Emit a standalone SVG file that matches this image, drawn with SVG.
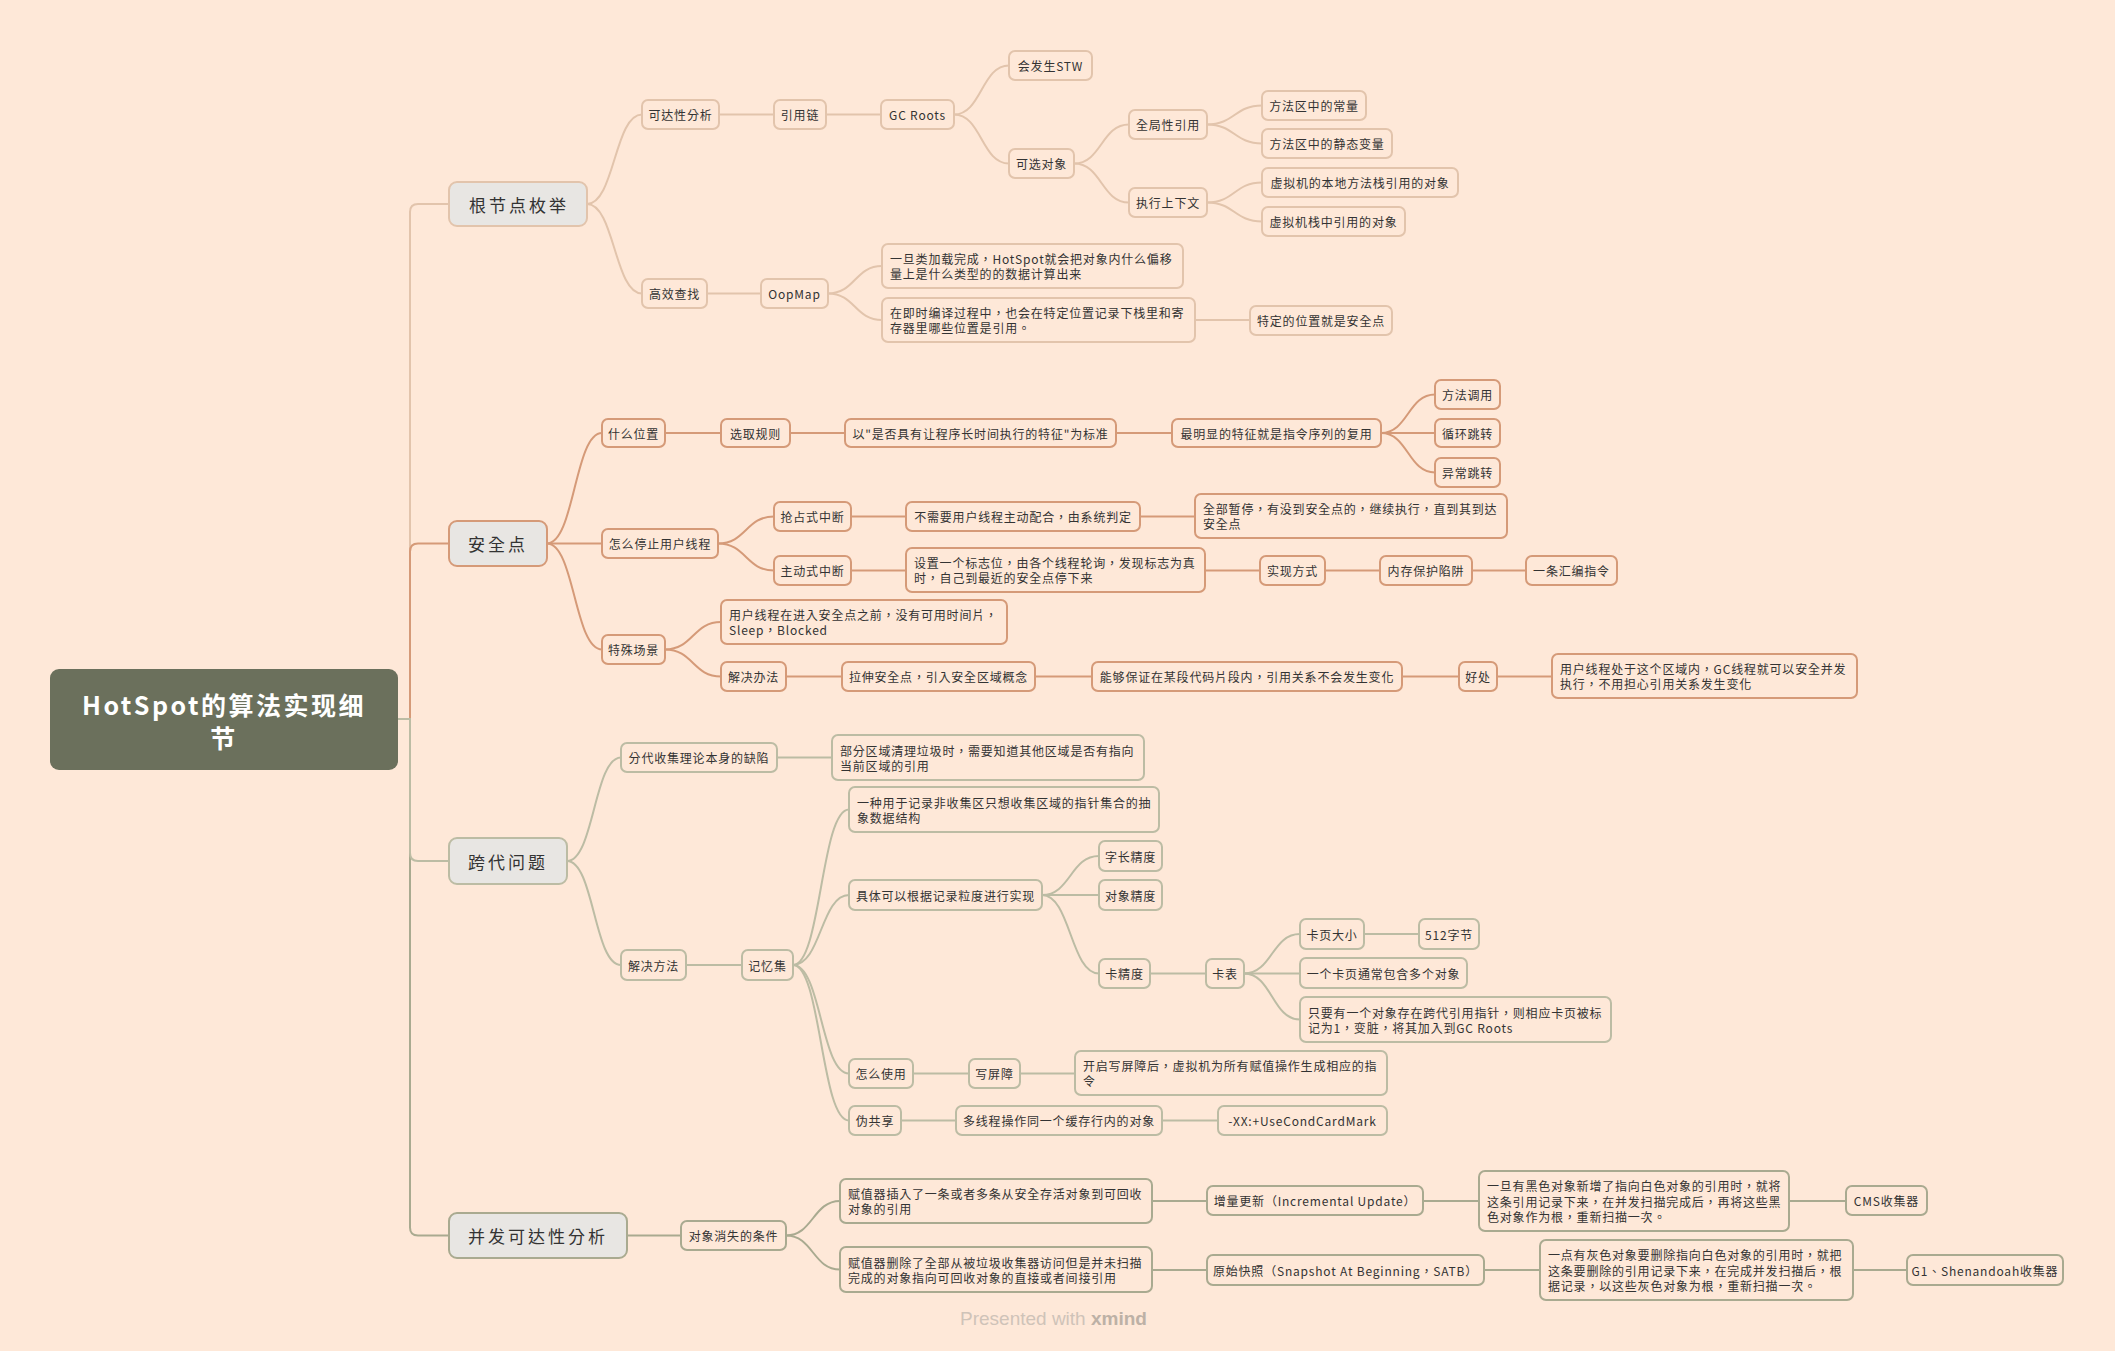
<svg xmlns="http://www.w3.org/2000/svg" width="2115" height="1351" viewBox="0 0 2115 1351">
<style>
text{font-family:"Noto Sans CJK TC","Noto Sans CJK SC",sans-serif;fill:#333333}
.t{font-size:12px;letter-spacing:0.8px}
.c{text-anchor:middle;dominant-baseline:central}
.ml{dominant-baseline:central}
.l1t{font-size:17px;letter-spacing:3px;text-anchor:middle;dominant-baseline:central}
.rt{font-size:25px;font-weight:bold;letter-spacing:2.5px;text-anchor:middle;dominant-baseline:central;fill:#ffffff}
rect{stroke-width:2}
.n1{fill:#fee8d8;stroke:#e2c4ac}
.n2{fill:#fee8d8;stroke:#d59a78}
.n3{fill:#fee8d8;stroke:#bcbca4}
.n4{fill:#fee8d8;stroke:#a9aa90}
.L1{fill:#e8e6e3}
path{fill:none;stroke-width:2}
.c1{stroke:#e2c4ac}
.c2{stroke:#d59a78}
.c3{stroke:#bcbca4}
.c4{stroke:#a9aa90}
</style>
<rect x="0" y="0" width="2115" height="1351" fill="#fee8d8" style="stroke:none"/>

<g id="connectors">
<path class="c1" d="M398 719H410V212Q410 204 418 204H449"/>
<path class="c2" d="M398 719H410V551.5Q410 543.5 418 543.5H449"/>
<path class="c4" d="M398 719H410V1227.5Q410 1235.5 418 1235.5H449"/>
<path class="c3" d="M398 719H410V853Q410 861 418 861H449"/>

<path class="c1" d="M587 204C614.5 204 614.5 114.5 642 114.5"/>
<path class="c1" d="M587 204C614.5 204 614.5 293.5 642 293.5"/>
<path class="c1" d="M719 114.5H774"/>
<path class="c1" d="M826 114.5H881"/>
<path class="c1" d="M954 114.5C981.5 114.5 981.5 65.5 1009 65.5"/>
<path class="c1" d="M954 114.5C981.5 114.5 981.5 163.5 1009 163.5"/>
<path class="c1" d="M1074 163.5C1101.5 163.5 1101.5 124.5 1129 124.5"/>
<path class="c1" d="M1074 163.5C1101.5 163.5 1101.5 202.5 1129 202.5"/>
<path class="c1" d="M1207 124.5C1234.5 124.5 1234.5 105.5 1262 105.5"/>
<path class="c1" d="M1207 124.5C1234.5 124.5 1234.5 143.5 1262 143.5"/>
<path class="c1" d="M1207 202.5C1234.5 202.5 1234.5 182.5 1262 182.5"/>
<path class="c1" d="M1207 202.5C1234.5 202.5 1234.5 221.5 1262 221.5"/>
<path class="c1" d="M707 293.5H761"/>
<path class="c1" d="M828 293.5C855 293.5 855 266 882 266"/>
<path class="c1" d="M828 293.5C855 293.5 855 320 882 320"/>
<path class="c1" d="M1195 320H1250"/>

<path class="c2" d="M547 543.5C574.5 543.5 574.5 433 602 433"/>
<path class="c2" d="M547 543.5H602"/>
<path class="c2" d="M547 543.5C574.5 543.5 574.5 649.5 602 649.5"/>
<path class="c2" d="M665 433H721"/>
<path class="c2" d="M790 433H845"/>
<path class="c2" d="M1116 433H1172"/>
<path class="c2" d="M1381 433C1408 433 1408 394.5 1435 394.5"/>
<path class="c2" d="M1381 433H1435"/>
<path class="c2" d="M1381 433C1408 433 1408 472.5 1435 472.5"/>
<path class="c2" d="M718 543.5C746 543.5 746 516.5 774 516.5"/>
<path class="c2" d="M718 543.5C746 543.5 746 570.5 774 570.5"/>
<path class="c2" d="M851 516.5H906"/>
<path class="c2" d="M1140 516.5H1195"/>
<path class="c2" d="M851 570.5H906"/>
<path class="c2" d="M1205 570.5H1260"/>
<path class="c2" d="M1325 570.5H1380"/>
<path class="c2" d="M1472 570.5H1526"/>
<path class="c2" d="M665 649.5C693 649.5 693 622 721 622"/>
<path class="c2" d="M665 649.5C693 649.5 693 676.5 721 676.5"/>
<path class="c2" d="M786 676.5H842"/>
<path class="c2" d="M1035 676.5H1092"/>
<path class="c2" d="M1402 676.5H1459"/>
<path class="c2" d="M1497 676.5H1552"/>

<path class="c3" d="M567 861C594 861 594 757.5 621 757.5"/>
<path class="c3" d="M567 861C594 861 594 965 621 965"/>
<path class="c3" d="M777 757.5H832"/>
<path class="c3" d="M686 965H742"/>
<path class="c3" d="M793 965C821 965 821 809.5 849 809.5"/>
<path class="c3" d="M793 965C821 965 821 895 849 895"/>
<path class="c3" d="M793 965C821 965 821 1073.5 849 1073.5"/>
<path class="c3" d="M793 965C821 965 821 1120.5 849 1120.5"/>
<path class="c3" d="M1042 895C1070.5 895 1070.5 856 1099 856"/>
<path class="c3" d="M1042 895H1099"/>
<path class="c3" d="M1042 895C1070.5 895 1070.5 973.5 1099 973.5"/>
<path class="c3" d="M1150 973.5H1206"/>
<path class="c3" d="M1244 973.5C1272 973.5 1272 934 1300 934"/>
<path class="c3" d="M1244 973.5H1300"/>
<path class="c3" d="M1244 973.5C1272 973.5 1272 1019.5 1300 1019.5"/>
<path class="c3" d="M1364 934H1419"/>
<path class="c3" d="M913 1073.5H969"/>
<path class="c3" d="M1020 1073.5H1075"/>
<path class="c3" d="M901 1120.5H956"/>
<path class="c3" d="M1162 1120.5H1218"/>

<path class="c4" d="M627 1235.5H681"/>
<path class="c4" d="M786 1235.5C813 1235.5 813 1201 840 1201"/>
<path class="c4" d="M786 1235.5C813 1235.5 813 1269.5 840 1269.5"/>
<path class="c4" d="M1152 1201H1207"/>
<path class="c4" d="M1423 1201H1479"/>
<path class="c4" d="M1789 1201H1846"/>
<path class="c4" d="M1152 1270H1207"/>
<path class="c4" d="M1484 1270H1540"/>
<path class="c4" d="M1853 1270H1907"/>
</g>

<g id="root">
<rect x="50" y="669" width="348" height="101" rx="9" fill="#6b705c" style="stroke:none"/>
<text class="rt" x="224" y="704">HotSpot的算法实现细</text>
<text class="rt" x="224" y="737">节</text>
</g>

<!-- Branch 1 -->
<g id="n-gzjd"><rect class="L1" x="449" y="182" width="138" height="44" rx="8" style="stroke:#e2c4ac"/><text class="l1t" x="519" y="204">根节点枚举</text></g>
<g id="n-kdx"><rect class="n1" x="642" y="100" width="77" height="29" rx="6"/><text class="t c" x="680.5" y="114.5">可达性分析</text></g>
<g id="n-yyl"><rect class="n1" x="774" y="100" width="52" height="29" rx="6"/><text class="t c" x="800" y="114.5">引用链</text></g>
<g id="n-gcr"><rect class="n1" x="881" y="100" width="73" height="29" rx="6"/><text class="t c" x="917.5" y="114.5">GC Roots</text></g>
<g id="n-stw"><rect class="n1" x="1009" y="51" width="83" height="29" rx="6"/><text class="t c" x="1050.5" y="65.5">会发生STW</text></g>
<g id="n-kxdx"><rect class="n1" x="1009" y="149" width="65" height="29" rx="6"/><text class="t c" x="1041.5" y="163.5">可选对象</text></g>
<g id="n-qjx"><rect class="n1" x="1129" y="110" width="78" height="29" rx="6"/><text class="t c" x="1168" y="124.5">全局性引用</text></g>
<g id="n-zxsx"><rect class="n1" x="1129" y="188" width="78" height="29" rx="6"/><text class="t c" x="1168" y="202.5">执行上下文</text></g>
<g id="n-cl"><rect class="n1" x="1262" y="91" width="104" height="29" rx="6"/><text class="t c" x="1314" y="105.5">方法区中的常量</text></g>
<g id="n-jtbl"><rect class="n1" x="1262" y="129" width="130" height="29" rx="6"/><text class="t c" x="1327" y="143.5">方法区中的静态变量</text></g>
<g id="n-bdff"><rect class="n1" x="1262" y="168" width="196" height="29" rx="6"/><text class="t c" x="1360" y="182.5">虚拟机的本地方法栈引用的对象</text></g>
<g id="n-xnjz"><rect class="n1" x="1262" y="207" width="143" height="29" rx="6"/><text class="t c" x="1333.5" y="221.5">虚拟机栈中引用的对象</text></g>
<g id="n-gxcz"><rect class="n1" x="642" y="279" width="65" height="29" rx="6"/><text class="t c" x="674.5" y="293.5">高效查找</text></g>
<g id="n-oop"><rect class="n1" x="761" y="279" width="67" height="29" rx="6"/><text class="t c" x="794.5" y="293.5">OopMap</text></g>
<g id="n-ydlj"><rect class="n1" x="882" y="244" width="301" height="44" rx="6"/><text class="t ml" x="890" y="258.5">一旦类加载完成，HotSpot就会把对象内什么偏移</text><text class="t ml" x="890" y="273.5">量上是什么类型的的数据计算出来</text></g>
<g id="n-zjsbj"><rect class="n1" x="882" y="298" width="313" height="44" rx="6"/><text class="t ml" x="890" y="312.5">在即时编译过程中，也会在特定位置记录下栈里和寄</text><text class="t ml" x="890" y="327.5">存器里哪些位置是引用。</text></g>
<g id="n-tdwz"><rect class="n1" x="1250" y="306" width="142" height="29" rx="6"/><text class="t c" x="1321" y="320.5">特定的位置就是安全点</text></g>

<!-- Branch 2 -->
<g id="n-aqd"><rect class="L1" x="449" y="521" width="98" height="45" rx="8" style="stroke:#d59a78"/><text class="l1t" x="498" y="543.5">安全点</text></g>
<g id="n-smwz"><rect class="n2" x="602" y="419" width="63" height="28" rx="6"/><text class="t c" x="633.5" y="433">什么位置</text></g>
<g id="n-xqgz"><rect class="n2" x="721" y="419" width="69" height="28" rx="6"/><text class="t c" x="755.5" y="433">选取规则</text></g>
<g id="n-yssf"><rect class="n2" x="845" y="419" width="271" height="28" rx="6"/><text class="t c" x="980.5" y="433">以"是否具有让程序长时间执行的特征"为标准</text></g>
<g id="n-zmxd"><rect class="n2" x="1172" y="419" width="209" height="28" rx="6"/><text class="t c" x="1276.5" y="433">最明显的特征就是指令序列的复用</text></g>
<g id="n-ffdy"><rect class="n2" x="1435" y="380" width="65" height="29" rx="6"/><text class="t c" x="1467.5" y="394.5">方法调用</text></g>
<g id="n-xhtz"><rect class="n2" x="1435" y="419" width="65" height="28" rx="6"/><text class="t c" x="1467.5" y="433">循环跳转</text></g>
<g id="n-yctz"><rect class="n2" x="1435" y="458" width="65" height="29" rx="6"/><text class="t c" x="1467.5" y="472.5">异常跳转</text></g>
<g id="n-zmtz"><rect class="n2" x="602" y="529" width="116" height="29" rx="6"/><text class="t c" x="660" y="543.5">怎么停止用户线程</text></g>
<g id="n-qzs"><rect class="n2" x="774" y="502" width="77" height="29" rx="6"/><text class="t c" x="812.5" y="516.5">抢占式中断</text></g>
<g id="n-bxy"><rect class="n2" x="906" y="502" width="234" height="29" rx="6"/><text class="t c" x="1023" y="516.5">不需要用户线程主动配合，由系统判定</text></g>
<g id="n-qbzt"><rect class="n2" x="1195" y="494" width="312" height="44" rx="6"/><text class="t ml" x="1203" y="508.5">全部暂停，有没到安全点的，继续执行，直到其到达</text><text class="t ml" x="1203" y="523.5">安全点</text></g>
<g id="n-zds"><rect class="n2" x="774" y="556" width="77" height="29" rx="6"/><text class="t c" x="812.5" y="570.5">主动式中断</text></g>
<g id="n-szyg"><rect class="n2" x="906" y="548" width="299" height="44" rx="6"/><text class="t ml" x="914" y="562.5">设置一个标志位，由各个线程轮询，发现标志为真</text><text class="t ml" x="914" y="577.5">时，自己到最近的安全点停下来</text></g>
<g id="n-sxfs"><rect class="n2" x="1260" y="556" width="65" height="29" rx="6"/><text class="t c" x="1292.5" y="570.5">实现方式</text></g>
<g id="n-ncbh"><rect class="n2" x="1380" y="556" width="92" height="29" rx="6"/><text class="t c" x="1426" y="570.5">内存保护陷阱</text></g>
<g id="n-ythb"><rect class="n2" x="1526" y="556" width="91" height="29" rx="6"/><text class="t c" x="1571.5" y="570.5">一条汇编指令</text></g>
<g id="n-tscj"><rect class="n2" x="602" y="635" width="63" height="29" rx="6"/><text class="t c" x="633.5" y="649.5">特殊场景</text></g>
<g id="n-yhxc"><rect class="n2" x="721" y="600" width="286" height="44" rx="6"/><text class="t ml" x="729" y="614.5">用户线程在进入安全点之前，没有可用时间片，</text><text class="t ml" x="729" y="629.5">Sleep，Blocked</text></g>
<g id="n-jjbf"><rect class="n2" x="721" y="662" width="65" height="29" rx="6"/><text class="t c" x="753.5" y="676.5">解决办法</text></g>
<g id="n-lsaq"><rect class="n2" x="842" y="662" width="193" height="29" rx="6"/><text class="t c" x="938.5" y="676.5">拉伸安全点，引入安全区域概念</text></g>
<g id="n-ngbz"><rect class="n2" x="1092" y="662" width="310" height="29" rx="6"/><text class="t c" x="1247" y="676.5">能够保证在某段代码片段内，引用关系不会发生变化</text></g>
<g id="n-hc"><rect class="n2" x="1459" y="662" width="38" height="29" rx="6"/><text class="t c" x="1478" y="676.5">好处</text></g>
<g id="n-yhcy"><rect class="n2" x="1552" y="654" width="305" height="44" rx="6"/><text class="t ml" x="1560" y="668.5">用户线程处于这个区域内，GC线程就可以安全并发</text><text class="t ml" x="1560" y="683.5">执行，不用担心引用关系发生变化</text></g>

<!-- Branch 3 -->
<g id="n-kdwt"><rect class="L1" x="449" y="838" width="118" height="46" rx="8" style="stroke:#bcbca4"/><text class="l1t" x="508" y="861">跨代问题</text></g>
<g id="n-fdsj"><rect class="n3" x="621" y="743" width="156" height="29" rx="6"/><text class="t c" x="699" y="757.5">分代收集理论本身的缺陷</text></g>
<g id="n-bfqy"><rect class="n3" x="832" y="735" width="312" height="45" rx="6"/><text class="t ml" x="840" y="750">部分区域清理垃圾时，需要知道其他区域是否有指向</text><text class="t ml" x="840" y="765">当前区域的引用</text></g>
<g id="n-jjff"><rect class="n3" x="621" y="950" width="65" height="30" rx="6"/><text class="t c" x="653.5" y="965">解决方法</text></g>
<g id="n-jyj"><rect class="n3" x="742" y="950" width="51" height="30" rx="6"/><text class="t c" x="767.5" y="965">记忆集</text></g>
<g id="n-yzyy"><rect class="n3" x="849" y="787" width="310" height="45" rx="6"/><text class="t ml" x="857" y="802">一种用于记录非收集区只想收集区域的指针集合的抽</text><text class="t ml" x="857" y="817">象数据结构</text></g>
<g id="n-jtky"><rect class="n3" x="849" y="880" width="193" height="30" rx="6"/><text class="t c" x="945.5" y="895">具体可以根据记录粒度进行实现</text></g>
<g id="n-zcjd"><rect class="n3" x="1099" y="841" width="63" height="30" rx="6"/><text class="t c" x="1130.5" y="856">字长精度</text></g>
<g id="n-dxjd"><rect class="n3" x="1099" y="880" width="63" height="30" rx="6"/><text class="t c" x="1130.5" y="895">对象精度</text></g>
<g id="n-kjd"><rect class="n3" x="1099" y="959" width="51" height="29" rx="6"/><text class="t c" x="1124.5" y="973.5">卡精度</text></g>
<g id="n-kb"><rect class="n3" x="1206" y="959" width="38" height="29" rx="6"/><text class="t c" x="1225" y="973.5">卡表</text></g>
<g id="n-kydx"><rect class="n3" x="1300" y="919" width="64" height="30" rx="6"/><text class="t c" x="1332" y="934">卡页大小</text></g>
<g id="n-512"><rect class="n3" x="1419" y="919" width="60" height="30" rx="6"/><text class="t c" x="1449" y="934">512字节</text></g>
<g id="n-ygky"><rect class="n3" x="1300" y="958" width="167" height="30" rx="6"/><text class="t c" x="1383.5" y="973">一个卡页通常包含多个对象</text></g>
<g id="n-zyy"><rect class="n3" x="1300" y="997" width="311" height="45" rx="6"/><text class="t ml" x="1308" y="1012">只要有一个对象存在跨代引用指针，则相应卡页被标</text><text class="t ml" x="1308" y="1027">记为1，变脏，将其加入到GC Roots</text></g>
<g id="n-zmsy"><rect class="n3" x="849" y="1059" width="64" height="29" rx="6"/><text class="t c" x="881" y="1073.5">怎么使用</text></g>
<g id="n-xpz"><rect class="n3" x="969" y="1059" width="51" height="29" rx="6"/><text class="t c" x="994.5" y="1073.5">写屏障</text></g>
<g id="n-kqxp"><rect class="n3" x="1075" y="1051" width="312" height="44" rx="6"/><text class="t ml" x="1083" y="1065.5">开启写屏障后，虚拟机为所有赋值操作生成相应的指</text><text class="t ml" x="1083" y="1080.5">令</text></g>
<g id="n-wgx"><rect class="n3" x="849" y="1106" width="52" height="29" rx="6"/><text class="t c" x="875" y="1120.5">伪共享</text></g>
<g id="n-dxcc"><rect class="n3" x="956" y="1106" width="206" height="29" rx="6"/><text class="t c" x="1059" y="1120.5">多线程操作同一个缓存行内的对象</text></g>
<g id="n-xx"><rect class="n3" x="1218" y="1106" width="169" height="29" rx="6"/><text class="t c" x="1302.5" y="1120.5">-XX:+UseCondCardMark</text></g>

<!-- Branch 4 -->
<g id="n-bfkd"><rect class="L1" x="449" y="1213" width="178" height="45" rx="8" style="stroke:#a9aa90"/><text class="l1t" x="538" y="1235.5">并发可达性分析</text></g>
<g id="n-dxxs"><rect class="n4" x="681" y="1221" width="105" height="29" rx="6"/><text class="t c" x="733.5" y="1235.5">对象消失的条件</text></g>
<g id="n-fzqcr"><rect class="n4" x="840" y="1179" width="312" height="44" rx="6"/><text class="t ml" x="848" y="1193.5">赋值器插入了一条或者多条从安全存活对象到可回收</text><text class="t ml" x="848" y="1208.5">对象的引用</text></g>
<g id="n-zlgx"><rect class="n4" x="1207" y="1186" width="216" height="29" rx="6"/><text class="t c" x="1315" y="1200.5">增量更新（Incremental Update）</text></g>
<g id="n-ydyh"><rect class="n4" x="1479" y="1171" width="310" height="60" rx="6"/><text class="t ml" x="1487" y="1185.5">一旦有黑色对象新增了指向白色对象的引用时，就将</text><text class="t ml" x="1487" y="1201">这条引用记录下来，在并发扫描完成后，再将这些黑</text><text class="t ml" x="1487" y="1216.5">色对象作为根，重新扫描一次。</text></g>
<g id="n-cms"><rect class="n4" x="1846" y="1186" width="81" height="29" rx="6"/><text class="t c" x="1886.5" y="1200.5">CMS收集器</text></g>
<g id="n-fzqsc"><rect class="n4" x="840" y="1247" width="312" height="45" rx="6"/><text class="t ml" x="848" y="1262">赋值器删除了全部从被垃圾收集器访问但是并未扫描</text><text class="t ml" x="848" y="1277">完成的对象指向可回收对象的直接或者间接引用</text></g>
<g id="n-ysk"><rect class="n4" x="1207" y="1255" width="277" height="30" rx="6"/><text class="t c" x="1345.5" y="1270">原始快照（Snapshot At Beginning，SATB）</text></g>
<g id="n-ydhs"><rect class="n4" x="1540" y="1240" width="313" height="60" rx="6"/><text class="t ml" x="1548" y="1254.5">一点有灰色对象要删除指向白色对象的引用时，就把</text><text class="t ml" x="1548" y="1270">这条要删除的引用记录下来，在完成并发扫描后，根</text><text class="t ml" x="1548" y="1285.5">据记录，以这些灰色对象为根，重新扫描一次。</text></g>
<g id="n-g1"><rect class="n4" x="1907" y="1255" width="156" height="30" rx="6"/><text class="t c" x="1985" y="1270">G1、Shenandoah收集器</text></g>

<text x="960" y="1325" style="font-family:'Liberation Sans',sans-serif;font-size:19px;fill:#cfc3b8">Presented with <tspan style="font-weight:bold;fill:#bdb1a6">xmind</tspan></text>
</svg>
